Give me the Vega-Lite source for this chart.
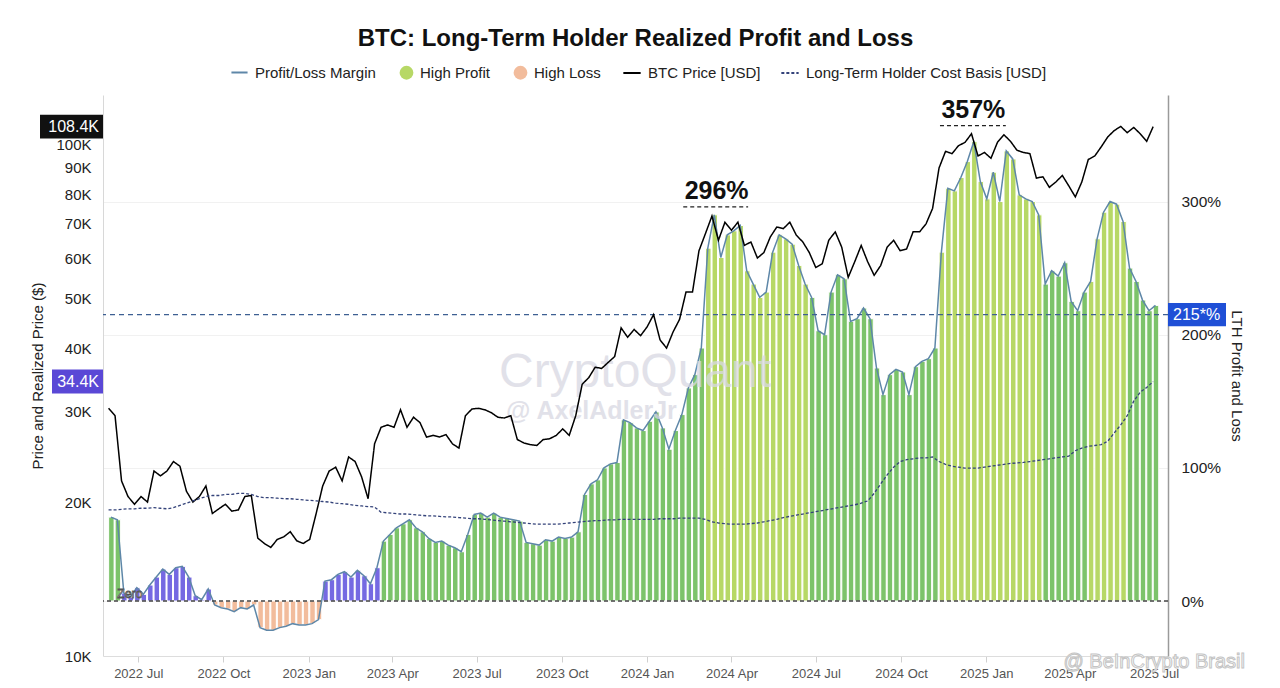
{
"$schema":"https://vega.github.io/schema/vega-lite/v6.json",
"width":1065,"height":561,"autosize":"none",
"padding":{"left":103,"top":95,"right":112,"bottom":32},
"background":"white",
"config":{"font":"Liberation Sans","view":{"stroke":null},
  "legend":{"labelFontSize":15,"labelColor":"#222222","labelLimit":400,"labelOffset":6,"columnPadding":20,"direction":"horizontal","orient":"none","title":null,"symbolStrokeWidth":2}},
"title":{"text":"BTC: Long-Term Holder Realized Profit and Loss","fontSize":24,"fontWeight":"bold","color":"#111111","anchor":"middle","frame":"group","offset":12},
"datasets":{"w":[
{"d":"2022-05-30","m":63,"p":30500,"c":19300,"z":"Profit"},
{"d":"2022-06-06","m":61,"p":29500,"c":19300,"z":"Profit"},
{"d":"2022-06-13","m":6,"p":22000,"c":19350,"z":"Low Profit"},
{"d":"2022-06-20","m":3,"p":20500,"c":19400,"z":"Low Profit"},
{"d":"2022-06-27","m":10,"p":19800,"c":19400,"z":"Low Profit"},
{"d":"2022-07-04","m":5,"p":20500,"c":19450,"z":"Low Profit"},
{"d":"2022-07-11","m":12,"p":20000,"c":19450,"z":"Low Profit"},
{"d":"2022-07-18","m":18,"p":23000,"c":19500,"z":"Low Profit"},
{"d":"2022-07-25","m":24,"p":22500,"c":19450,"z":"Low Profit"},
{"d":"2022-08-01","m":20,"p":23000,"c":19400,"z":"Low Profit"},
{"d":"2022-08-08","m":25,"p":24000,"c":19500,"z":"Low Profit"},
{"d":"2022-08-15","m":26,"p":23500,"c":19700,"z":"Low Profit"},
{"d":"2022-08-22","m":18,"p":21000,"c":19900,"z":"Low Profit"},
{"d":"2022-08-29","m":4,"p":20000,"c":20100,"z":"Low Profit"},
{"d":"2022-09-05","m":1,"p":20500,"c":20300,"z":"Low Profit"},
{"d":"2022-09-12","m":9,"p":21500,"c":20500,"z":"Low Profit"},
{"d":"2022-09-19","m":-3,"p":19000,"c":20600,"z":"High Loss"},
{"d":"2022-09-26","m":-5,"p":19400,"c":20600,"z":"High Loss"},
{"d":"2022-10-03","m":-6,"p":19800,"c":20700,"z":"High Loss"},
{"d":"2022-10-10","m":-8,"p":19200,"c":20700,"z":"High Loss"},
{"d":"2022-10-17","m":-5,"p":19300,"c":20800,"z":"High Loss"},
{"d":"2022-10-24","m":-6,"p":20500,"c":20800,"z":"High Loss"},
{"d":"2022-10-31","m":-3,"p":20600,"c":20700,"z":"High Loss"},
{"d":"2022-11-07","m":-20,"p":17000,"c":20500,"z":"High Loss"},
{"d":"2022-11-14","m":-22,"p":16600,"c":20400,"z":"High Loss"},
{"d":"2022-11-21","m":-22,"p":16300,"c":20400,"z":"High Loss"},
{"d":"2022-11-28","m":-20,"p":16900,"c":20350,"z":"High Loss"},
{"d":"2022-12-05","m":-19,"p":17100,"c":20300,"z":"High Loss"},
{"d":"2022-12-12","m":-17,"p":17500,"c":20300,"z":"High Loss"},
{"d":"2022-12-19","m":-18,"p":16800,"c":20250,"z":"High Loss"},
{"d":"2022-12-26","m":-18,"p":16600,"c":20200,"z":"High Loss"},
{"d":"2023-01-02","m":-17,"p":16900,"c":20150,"z":"High Loss"},
{"d":"2023-01-09","m":-14,"p":19000,"c":20100,"z":"High Loss"},
{"d":"2023-01-16","m":15,"p":21500,"c":20050,"z":"Low Profit"},
{"d":"2023-01-23","m":16,"p":23000,"c":20000,"z":"Low Profit"},
{"d":"2023-01-30","m":20,"p":23400,"c":19900,"z":"Low Profit"},
{"d":"2023-02-06","m":22,"p":22000,"c":19850,"z":"Low Profit"},
{"d":"2023-02-13","m":18,"p":24500,"c":19800,"z":"Low Profit"},
{"d":"2023-02-20","m":23,"p":24000,"c":19700,"z":"Low Profit"},
{"d":"2023-02-27","m":19,"p":22400,"c":19650,"z":"Low Profit"},
{"d":"2023-03-06","m":13,"p":20300,"c":19600,"z":"Low Profit"},
{"d":"2023-03-13","m":25,"p":26000,"c":19550,"z":"Low Profit"},
{"d":"2023-03-20","m":45,"p":28000,"c":19100,"z":"Profit"},
{"d":"2023-03-27","m":50,"p":28300,"c":19050,"z":"Profit"},
{"d":"2023-04-03","m":55,"p":28000,"c":19000,"z":"Profit"},
{"d":"2023-04-10","m":58,"p":30300,"c":18950,"z":"Profit"},
{"d":"2023-04-17","m":61,"p":28000,"c":18950,"z":"Profit"},
{"d":"2023-04-24","m":55,"p":29300,"c":18900,"z":"Profit"},
{"d":"2023-05-01","m":52,"p":28600,"c":18850,"z":"Profit"},
{"d":"2023-05-08","m":47,"p":26800,"c":18800,"z":"Profit"},
{"d":"2023-05-15","m":44,"p":27000,"c":18800,"z":"Profit"},
{"d":"2023-05-22","m":45,"p":26800,"c":18750,"z":"Profit"},
{"d":"2023-05-29","m":42,"p":27100,"c":18700,"z":"Profit"},
{"d":"2023-06-05","m":40,"p":26000,"c":18700,"z":"Profit"},
{"d":"2023-06-12","m":37,"p":25500,"c":18650,"z":"Profit"},
{"d":"2023-06-19","m":50,"p":29500,"c":18600,"z":"Profit"},
{"d":"2023-06-26","m":65,"p":30400,"c":18550,"z":"Profit"},
{"d":"2023-07-03","m":66,"p":30500,"c":18550,"z":"Profit"},
{"d":"2023-07-10","m":63,"p":30300,"c":18500,"z":"Profit"},
{"d":"2023-07-17","m":66,"p":29900,"c":18450,"z":"Profit"},
{"d":"2023-07-24","m":63,"p":29300,"c":18400,"z":"Profit"},
{"d":"2023-07-31","m":62,"p":29200,"c":18350,"z":"Profit"},
{"d":"2023-08-07","m":61,"p":29500,"c":18300,"z":"Profit"},
{"d":"2023-08-14","m":60,"p":26500,"c":18250,"z":"Profit"},
{"d":"2023-08-21","m":44,"p":26100,"c":18200,"z":"Profit"},
{"d":"2023-08-28","m":43,"p":25900,"c":18150,"z":"Profit"},
{"d":"2023-09-04","m":42,"p":25800,"c":18100,"z":"Profit"},
{"d":"2023-09-11","m":46,"p":26500,"c":18100,"z":"Profit"},
{"d":"2023-09-18","m":45,"p":26600,"c":18100,"z":"Profit"},
{"d":"2023-09-25","m":48,"p":27000,"c":18100,"z":"Profit"},
{"d":"2023-10-02","m":47,"p":27800,"c":18150,"z":"Profit"},
{"d":"2023-10-09","m":48,"p":27000,"c":18200,"z":"Profit"},
{"d":"2023-10-16","m":52,"p":29500,"c":18250,"z":"Profit"},
{"d":"2023-10-23","m":80,"p":34000,"c":18300,"z":"Profit"},
{"d":"2023-10-30","m":88,"p":35000,"c":18350,"z":"Profit"},
{"d":"2023-11-06","m":91,"p":36700,"c":18400,"z":"Profit"},
{"d":"2023-11-13","m":100,"p":36500,"c":18400,"z":"Profit"},
{"d":"2023-11-20","m":103,"p":37500,"c":18450,"z":"Profit"},
{"d":"2023-11-27","m":104,"p":38500,"c":18450,"z":"Profit"},
{"d":"2023-12-04","m":136,"p":43800,"c":18500,"z":"Profit"},
{"d":"2023-12-11","m":134,"p":42000,"c":18500,"z":"Profit"},
{"d":"2023-12-18","m":130,"p":43500,"c":18500,"z":"Profit"},
{"d":"2023-12-25","m":128,"p":42300,"c":18500,"z":"Profit"},
{"d":"2024-01-01","m":135,"p":44000,"c":18500,"z":"Profit"},
{"d":"2024-01-08","m":142,"p":46500,"c":18500,"z":"Profit"},
{"d":"2024-01-15","m":130,"p":41500,"c":18550,"z":"Profit"},
{"d":"2024-01-22","m":114,"p":40000,"c":18550,"z":"Profit"},
{"d":"2024-01-29","m":128,"p":43000,"c":18550,"z":"Profit"},
{"d":"2024-02-05","m":140,"p":45500,"c":18600,"z":"Profit"},
{"d":"2024-02-12","m":160,"p":51500,"c":18600,"z":"Profit"},
{"d":"2024-02-19","m":170,"p":51500,"c":18600,"z":"Profit"},
{"d":"2024-02-26","m":190,"p":62000,"c":18600,"z":"Profit"},
{"d":"2024-03-04","m":265,"p":67000,"c":18500,"z":"High Profit"},
{"d":"2024-03-11","m":290,"p":72500,"c":18300,"z":"High Profit"},
{"d":"2024-03-18","m":258,"p":65000,"c":18200,"z":"High Profit"},
{"d":"2024-03-25","m":275,"p":70500,"c":18150,"z":"High Profit"},
{"d":"2024-04-01","m":278,"p":68000,"c":18100,"z":"High Profit"},
{"d":"2024-04-08","m":282,"p":70500,"c":18100,"z":"High Profit"},
{"d":"2024-04-15","m":248,"p":63500,"c":18100,"z":"High Profit"},
{"d":"2024-04-22","m":238,"p":64500,"c":18150,"z":"High Profit"},
{"d":"2024-04-29","m":228,"p":60000,"c":18200,"z":"High Profit"},
{"d":"2024-05-06","m":232,"p":61500,"c":18300,"z":"High Profit"},
{"d":"2024-05-13","m":262,"p":66000,"c":18400,"z":"High Profit"},
{"d":"2024-05-20","m":275,"p":69000,"c":18500,"z":"High Profit"},
{"d":"2024-05-27","m":272,"p":68500,"c":18650,"z":"High Profit"},
{"d":"2024-06-03","m":268,"p":70500,"c":18750,"z":"High Profit"},
{"d":"2024-06-10","m":252,"p":66500,"c":18850,"z":"High Profit"},
{"d":"2024-06-17","m":238,"p":64500,"c":18950,"z":"High Profit"},
{"d":"2024-06-24","m":228,"p":61500,"c":19050,"z":"Profit"},
{"d":"2024-07-01","m":203,"p":57500,"c":19150,"z":"Profit"},
{"d":"2024-07-08","m":200,"p":58500,"c":19250,"z":"Profit"},
{"d":"2024-07-15","m":232,"p":65000,"c":19350,"z":"Profit"},
{"d":"2024-07-22","m":245,"p":67500,"c":19450,"z":"Profit"},
{"d":"2024-07-29","m":242,"p":63000,"c":19550,"z":"Profit"},
{"d":"2024-08-05","m":210,"p":55000,"c":19650,"z":"Profit"},
{"d":"2024-08-12","m":212,"p":59000,"c":19750,"z":"Profit"},
{"d":"2024-08-19","m":220,"p":63500,"c":19900,"z":"Profit"},
{"d":"2024-08-26","m":212,"p":59000,"c":20100,"z":"Profit"},
{"d":"2024-09-02","m":175,"p":55500,"c":20800,"z":"Profit"},
{"d":"2024-09-09","m":155,"p":58000,"c":21700,"z":"Profit"},
{"d":"2024-09-16","m":170,"p":63000,"c":22600,"z":"Profit"},
{"d":"2024-09-23","m":174,"p":65000,"c":23400,"z":"Profit"},
{"d":"2024-09-30","m":172,"p":62000,"c":24000,"z":"Profit"},
{"d":"2024-10-07","m":155,"p":62500,"c":24200,"z":"Profit"},
{"d":"2024-10-14","m":176,"p":67500,"c":24300,"z":"Profit"},
{"d":"2024-10-21","m":180,"p":67500,"c":24400,"z":"Profit"},
{"d":"2024-10-28","m":182,"p":70000,"c":24400,"z":"Profit"},
{"d":"2024-11-04","m":190,"p":75000,"c":24500,"z":"Profit"},
{"d":"2024-11-11","m":262,"p":90000,"c":24000,"z":"High Profit"},
{"d":"2024-11-18","m":310,"p":97000,"c":23700,"z":"High Profit"},
{"d":"2024-11-25","m":308,"p":96000,"c":23500,"z":"High Profit"},
{"d":"2024-12-02","m":318,"p":99500,"c":23400,"z":"High Profit"},
{"d":"2024-12-09","m":330,"p":101000,"c":23300,"z":"High Profit"},
{"d":"2024-12-16","m":345,"p":105000,"c":23300,"z":"High Profit"},
{"d":"2024-12-23","m":315,"p":95000,"c":23300,"z":"High Profit"},
{"d":"2024-12-30","m":302,"p":96500,"c":23400,"z":"High Profit"},
{"d":"2025-01-06","m":322,"p":94000,"c":23500,"z":"High Profit"},
{"d":"2025-01-13","m":300,"p":101000,"c":23600,"z":"High Profit"},
{"d":"2025-01-20","m":338,"p":104500,"c":23700,"z":"High Profit"},
{"d":"2025-01-27","m":332,"p":101500,"c":23800,"z":"High Profit"},
{"d":"2025-02-03","m":305,"p":97500,"c":23850,"z":"High Profit"},
{"d":"2025-02-10","m":302,"p":96500,"c":23900,"z":"High Profit"},
{"d":"2025-02-17","m":300,"p":96000,"c":24000,"z":"High Profit"},
{"d":"2025-02-24","m":290,"p":86000,"c":24100,"z":"High Profit"},
{"d":"2025-03-03","m":238,"p":86500,"c":24200,"z":"Profit"},
{"d":"2025-03-10","m":248,"p":82500,"c":24300,"z":"Profit"},
{"d":"2025-03-17","m":244,"p":84500,"c":24400,"z":"Profit"},
{"d":"2025-03-24","m":254,"p":87000,"c":24500,"z":"Profit"},
{"d":"2025-03-31","m":225,"p":83000,"c":24600,"z":"Profit"},
{"d":"2025-04-07","m":218,"p":79000,"c":25200,"z":"Profit"},
{"d":"2025-04-14","m":232,"p":84500,"c":25500,"z":"Profit"},
{"d":"2025-04-21","m":240,"p":93500,"c":25700,"z":"High Profit"},
{"d":"2025-04-28","m":272,"p":95000,"c":25800,"z":"High Profit"},
{"d":"2025-05-05","m":292,"p":99000,"c":25900,"z":"High Profit"},
{"d":"2025-05-12","m":300,"p":103500,"c":26300,"z":"High Profit"},
{"d":"2025-05-19","m":298,"p":106500,"c":27300,"z":"High Profit"},
{"d":"2025-05-26","m":285,"p":108500,"c":28300,"z":"High Profit"},
{"d":"2025-06-02","m":250,"p":105500,"c":29500,"z":"Profit"},
{"d":"2025-06-09","m":240,"p":108000,"c":31500,"z":"Profit"},
{"d":"2025-06-16","m":226,"p":105000,"c":32800,"z":"Profit"},
{"d":"2025-06-23","m":218,"p":101500,"c":33500,"z":"Profit"},
{"d":"2025-06-30","m":222,"p":108400,"c":34400,"z":"Profit"}
]},
"data":{"name":"w"},
"layer":[
{"layer":[
 {"mark":{"type":"bar","stroke":"#ffffff","strokeWidth":1},
  "encoding":{
   "x":{"field":"d","type":"temporal","timeUnit":"yearweek",
     "scale":{"domain":[{"year":2022,"month":"may","date":24},{"year":2025,"month":"jul","date":16}]},
     "axis":{"title":null,"format":"%Y %b","formatType":"time","tickCount":{"interval":"month","step":3},"labelFontSize":13,"labelColor":"#555555","tickColor":"#d0d0d0","tickSize":6,"domainColor":"#dddddd","labelPadding":5,"grid":false}},
   "y":{"field":"m","type":"quantitative","scale":{"domain":[-41.3,380],"nice":false,"zero":false},
     "axis":{"orient":"right","title":"LTH Profit and Loss","values":[0,100,200,300],"labelExpr":"datum.value + '%'","grid":true,"gridColor":"#f1f1f1","ticks":false,"labelPadding":13,"domainColor":"#9a9a9a","domainWidth":1.5,"labelFontSize":15.5,"labelColor":"#222222","titleFontSize":15,"titleFontWeight":"normal","titleColor":"#222222","titlePadding":8}},
   "fill":{"field":"z","type":"nominal",
     "scale":{"domain":["High Profit","High Loss","Profit","Low Profit"],"range":["#b7d866","#f2bc9c","#7cc36a","#7569e2"]},
     "legend":{"legendX":296,"legendY":-30,"values":["High Profit","High Loss"],"symbolType":"circle","symbolSize":190,"symbolStrokeWidth":0,"columnPadding":22}}}},
 {"mark":{"type":"line","strokeWidth":1.5},
  "encoding":{"x":{"field":"d","type":"temporal","timeUnit":"yearweek","bandPosition":0.5},
   "y":{"field":"m","type":"quantitative"},
   "color":{"datum":"Profit/Loss Margin","scale":{"domain":["Profit/Loss Margin"],"range":["#5e87a8"]},
     "legend":{"legendX":127,"legendY":-32,"symbolType":"stroke","symbolSize":260}}}},
 {"data":{"values":[{}]},"mark":{"type":"rule","strokeDash":[4,3],"color":"#444444","strokeWidth":1.3},"encoding":{"y":{"datum":0}}},
 {"data":{"values":[{}]},"mark":{"type":"rule","strokeDash":[5,4],"color":"#3d5f92","strokeWidth":1.3},"encoding":{"y":{"datum":215}}},
 {"data":{"values":[{}]},"mark":{"type":"rule","strokeDash":[4,3],"color":"#222222","strokeWidth":1.4},
  "encoding":{"x":{"datum":{"year":2024,"month":"feb","date":9},"type":"temporal"},"x2":{"datum":{"year":2024,"month":"apr","date":19}},"y":{"datum":296}}},
 {"data":{"values":[{}]},"mark":{"type":"rule","strokeDash":[4,3],"color":"#222222","strokeWidth":1.4},
  "encoding":{"x":{"datum":{"year":2024,"month":"nov","date":12},"type":"temporal"},"x2":{"datum":{"year":2025,"month":"jan","date":22}},"y":{"datum":357}}},
 {"data":{"values":[{}]},"mark":{"type":"text","text":"296%","fontSize":25,"fontWeight":"bold","color":"#111111","baseline":"alphabetic","dy":-8},
  "encoding":{"x":{"datum":{"year":2024,"month":"mar","date":16},"type":"temporal"},"y":{"datum":296}}},
 {"data":{"values":[{}]},"mark":{"type":"text","text":"357%","fontSize":25,"fontWeight":"bold","color":"#111111","baseline":"alphabetic","dy":-8},
  "encoding":{"x":{"datum":{"year":2024,"month":"dec","date":18},"type":"temporal"},"y":{"datum":357}}},
 {"data":{"values":[{}]},"mark":{"type":"text","text":"Zero","fontSize":12.5,"fill":"#f4f4f4","stroke":"#555555","strokeWidth":0.8,"baseline":"alphabetic","dy":-3},
  "encoding":{"x":{"datum":{"year":2022,"month":"jun","date":22},"type":"temporal"},"y":{"datum":0}}},
 {"data":{"values":[{}]},"mark":{"type":"text","text":"CryptoQuant","fontSize":48,"color":"#d8d8e2","opacity":0.75,"baseline":"middle"},
  "encoding":{"x":{"datum":{"year":2023,"month":"dec","date":19},"type":"temporal"},"y":{"datum":171}}},
 {"data":{"values":[{}]},"mark":{"type":"text","text":"@ AxelAdlerJr","fontSize":25,"fontWeight":"bold","color":"#d8d8e2","opacity":0.75,"baseline":"middle"},
  "encoding":{"x":{"datum":{"year":2023,"month":"nov","date":2},"type":"temporal"},"y":{"datum":143}}},
 {"data":{"values":[{}]},"mark":{"type":"text","text":"@ BeInCrypto Brasil","fontSize":20,"fill":"#ffffff","stroke":"#c4c4c4","strokeWidth":1,"align":"right","baseline":"alphabetic"},
  "encoding":{"x":{"datum":{"year":2025,"month":"oct","date":7},"type":"temporal"},"y":{"datum":-50}}},
 {"data":{"values":[{}]},"mark":{"type":"point","shape":"M0,-0.4H2V0.4H0Z","size":3364,"filled":true,"color":"#1f4fd6","opacity":1,"strokeWidth":0},
  "encoding":{"x":{"datum":{"year":2025,"month":"jul","date":16},"type":"temporal"},"y":{"datum":215}}},
 {"data":{"values":[{}]},"mark":{"type":"text","text":"215*%","fontSize":16,"color":"#ffffff","align":"left","baseline":"middle","dx":5},
  "encoding":{"x":{"datum":{"year":2025,"month":"jul","date":16},"type":"temporal"},"y":{"datum":215}}}
]},
{"layer":[
 {"mark":{"type":"line","strokeWidth":1.5},
  "encoding":{"x":{"field":"d","type":"temporal"},
   "y":{"field":"p","type":"quantitative","scale":{"type":"log","domain":[10000,125000],"nice":false},
     "axis":{"orient":"left","title":"Price and Realized Price ($)","values":[10000,20000,30000,40000,50000,60000,70000,80000,90000,100000],"labelExpr":"(datum.value/1000) + 'K'","grid":false,"ticks":false,"labelPadding":12,"domainColor":"#d8d8d8","labelFontSize":15,"labelColor":"#222222","titleFontSize":15,"titleFontWeight":"normal","titleColor":"#222222","titlePadding":10}},
   "stroke":{"datum":"BTC Price [USD]","scale":{"domain":["BTC Price [USD]","Long-Term Holder Cost Basis [USD]"],"range":["#000000","#34437a"]},
     "legend":{"legendX":519,"legendY":-32,"symbolType":"stroke","symbolSize":300,"columnPadding":16}},
   "strokeDash":{"datum":"BTC Price [USD]","scale":{"domain":["BTC Price [USD]","Long-Term Holder Cost Basis [USD]"],"range":[[1,0],[3,2]]},
     "legend":{"legendX":519,"legendY":-32,"symbolType":"stroke","symbolSize":300,"columnPadding":16}}}},
 {"mark":{"type":"line","strokeWidth":1.3},
  "encoding":{"x":{"field":"d","type":"temporal"},"y":{"field":"c","type":"quantitative"},
   "stroke":{"datum":"Long-Term Holder Cost Basis [USD]"},
   "strokeDash":{"datum":"Long-Term Holder Cost Basis [USD]"}}},
 {"data":{"values":[{}]},"mark":{"type":"point","shape":"M-2,-0.38H0V0.38H-2Z","size":3969,"filled":true,"color":"#111111","opacity":1,"strokeWidth":0},
  "encoding":{"x":{"datum":{"year":2022,"month":"may","date":24},"type":"temporal"},"y":{"datum":108400}}},
 {"data":{"values":[{}]},"mark":{"type":"text","text":"108.4K","fontSize":16,"color":"#ffffff","align":"right","baseline":"middle","dx":-4},
  "encoding":{"x":{"datum":{"year":2022,"month":"may","date":24},"type":"temporal"},"y":{"datum":108400}}},
 {"data":{"values":[{}]},"mark":{"type":"point","shape":"M-2,-0.47H0V0.47H-2Z","size":2601,"filled":true,"color":"#5a48d6","opacity":1,"strokeWidth":0},
  "encoding":{"x":{"datum":{"year":2022,"month":"may","date":24},"type":"temporal"},"y":{"datum":34400}}},
 {"data":{"values":[{}]},"mark":{"type":"text","text":"34.4K","fontSize":16,"color":"#ffffff","align":"right","baseline":"middle","dx":-4},
  "encoding":{"x":{"datum":{"year":2022,"month":"may","date":24},"type":"temporal"},"y":{"datum":34400}}}
]}
],
"resolve":{"scale":{"y":"independent"}}
}
